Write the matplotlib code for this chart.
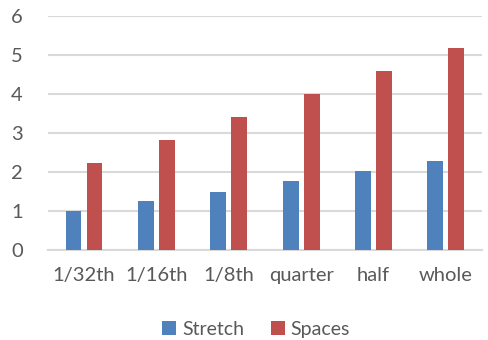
import matplotlib.pyplot as plt
import numpy as np

categories = ["1/32th", "1/16th", "1/8th", "quarter", "half", "whole"]
stretch = [1.0, 1.25, 1.5, 1.77, 2.02, 2.29]
spaces = [2.23, 2.83, 3.41, 3.99, 4.59, 5.17]

plt.rcParams['font.family'] = ['Lato', 'DejaVu Sans']

fig = plt.figure(figsize=(4.88, 3.4), dpi=100)
ax = fig.add_axes([0.098, 0.264, 0.89, 0.689])

x = np.arange(len(categories))
w = 0.22
gap = 0.07
ax.bar(x - (w + gap) / 2, stretch, w, color="#4F81BD", label="Stretch", zorder=3)
ax.bar(x + (w + gap) / 2, spaces, w, color="#C0504D", label="Spaces", zorder=3)

ax.set_xlim(-0.5, len(categories) - 0.5)
ax.set_ylim(0, 6)
ax.set_yticks(range(0, 7))
ax.yaxis.grid(True, color="#D9D9D9", linewidth=1.5, zorder=0)
for s in ["top", "right", "left"]:
    ax.spines[s].set_visible(False)
ax.spines["bottom"].set_color("#D9D9D9")
ax.spines["bottom"].set_linewidth(1.5)
ax.tick_params(length=0, labelsize=14.5, labelcolor="#595959")
ax.tick_params(axis="y", pad=18)
ax.tick_params(axis="x", pad=12)
ax.set_xticks(x)
ax.set_xticklabels(categories)

leg = fig.legend(loc="lower center", bbox_to_anchor=(0.525, -0.045), ncol=2, frameon=False,
                 fontsize=14, handlelength=0.7, handleheight=0.7, handletextpad=0.3,
                 columnspacing=1.4)
for t in leg.get_texts():
    t.set_color("#595959")

fig.savefig("out.png", dpi=100)
